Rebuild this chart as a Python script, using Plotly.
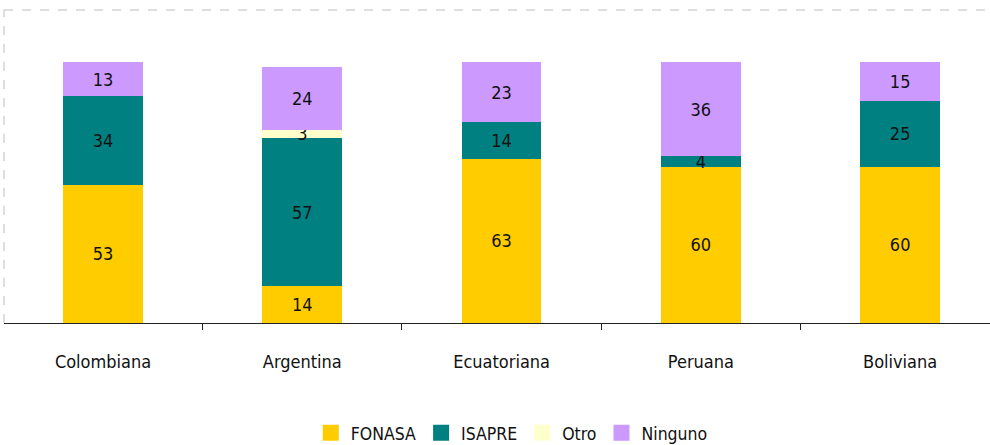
import plotly.graph_objects as go

categories = ["Colombiana", "Argentina", "Ecuatoriana", "Peruana", "Boliviana"]
fonasa = [53, 14, 63, 60, 60]
isapre = [34, 57, 14, 4, 25]
otro = [0, 3, 0, 0, 0]
ninguno = [13, 24, 23, 36, 15]

series = [
    ("FONASA", fonasa, "#FFCC00"),
    ("ISAPRE", isapre, "#008080"),
    ("Otro", otro, "#FFFFCC"),
    ("Ninguno", ninguno, "#CC99FF"),
]

FONT = "DejaVu Sans Condensed, Liberation Sans Narrow, sans-serif"

fig = go.Figure()
for name, vals, color in series:
    fig.add_trace(go.Bar(
        x=categories, y=vals, name=name, showlegend=False,
        marker=dict(color=color, line=dict(width=0)),
        text=[str(v) if v else "" for v in vals],
        textposition="inside", insidetextanchor="middle", textangle=0,
        textfont=dict(color="#111111", size=18, family=FONT),
        width=0.4,
    ))
# legend entries with larger square swatches
for name, vals, color in series:
    fig.add_trace(go.Scatter(
        x=[None], y=[None], name=name, mode="markers",
        marker=dict(symbol="square", size=16, color=color),
        showlegend=True, hoverinfo="skip",
    ))

fig.update_layout(
    barmode="stack",
    width=990, height=445,
    margin=dict(l=4, r=0, t=10, b=122, autoexpand=False),
    paper_bgcolor="white", plot_bgcolor="white",
    font=dict(family=FONT, size=18, color="#111111"),
    uniformtext=dict(minsize=18, mode="show"),
    showlegend=True,
    legend=dict(orientation="h", x=0.515, xanchor="center", y=-0.351, yanchor="middle",
                font=dict(size=17.5), itemwidth=30, traceorder="normal", itemsizing="trace"),
    xaxis=dict(
        type="category", range=[-0.497, 4.451], showline=True, linecolor="#222222", linewidth=1,
        ticks="outside", tickson="boundaries", ticklen=6, tickcolor="#222222",
        ticklabelstandoff=22, showgrid=False, zeroline=False, automargin=False,
    ),
    yaxis=dict(range=[0, 120], visible=False, showgrid=False, zeroline=False, automargin=False),
    shapes=[
        dict(type="line", xref="paper", yref="paper", x0=0, x1=1.02, y0=1, y1=1,
             line=dict(color="#d4d4d4", width=1.5, dash="dash")),
        dict(type="line", xref="paper", yref="paper", x0=0, x1=0, y0=0, y1=1,
             line=dict(color="#d4d4d4", width=1.5, dash="dash")),
    ],
)

fig.write_html("out.html", config={"displayModeBar": False},
               post_script="document.body.style.margin='0px';")
